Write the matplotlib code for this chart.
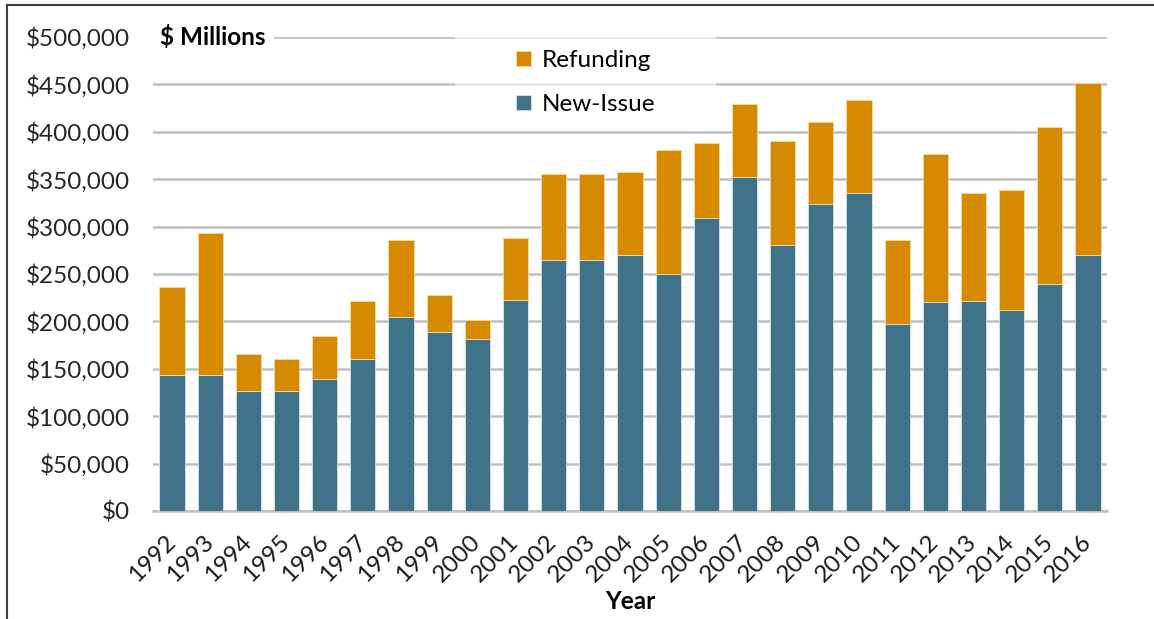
import matplotlib.pyplot as plt
import numpy as np
from matplotlib.patches import Rectangle
from matplotlib.lines import Line2D
from matplotlib.ticker import FuncFormatter

years = [str(y) for y in range(1992, 2017)]
new_issue = [143000, 143000, 127000, 127000, 139000, 160000, 205000, 189000, 181000, 223000,
             265000, 265000, 270000, 250000, 309000, 352000, 281000, 324000, 335000, 197000,
             220000, 222000, 212000, 239000, 270000]
total = [236000, 293000, 166000, 160000, 185000, 221000, 286000, 228000, 201000, 288000,
         356000, 356000, 358000, 381000, 388000, 429000, 390000, 410000, 434000, 286000,
         377000, 335000, 339000, 405000, 451000]
refunding = [t - n for t, n in zip(total, new_issue)]

ORANGE = '#D68A00'
TEAL = '#3F7289'
GRID = '#C0C0C0'
FS = 17.5

plt.rcParams['font.family'] = ['Lato', 'DejaVu Sans']

fig = plt.figure(figsize=(11.54, 6.19), dpi=100)
ax = fig.add_axes([153 / 1154, 1 - 511 / 619, 954 / 1154, 474 / 619])

x = np.arange(len(years))
ax.bar(x, new_issue, width=0.66, color=TEAL, edgecolor='#D8E2E8', linewidth=0.6,
       label='New-Issue', zorder=3)
ax.bar(x, refunding, bottom=new_issue, width=0.66, color=ORANGE, edgecolor='#F3D9A6',
       linewidth=0.6, label='Refunding', zorder=3)

ax.set_xlim(-0.5, len(years) - 0.5)
ax.set_ylim(0, 500000)
ax.set_yticks(np.arange(0, 500001, 50000))
ax.yaxis.set_major_formatter(FuncFormatter(lambda v, p: f'${v:,.0f}'))
ax.grid(axis='y', color=GRID, linewidth=1.8, zorder=0)
ax.set_axisbelow(True)
for s in ['top', 'right', 'left']:
    ax.spines[s].set_visible(False)
ax.spines['bottom'].set_color(GRID)
ax.spines['bottom'].set_linewidth(1.8)

ax.tick_params(axis='y', length=0, pad=17, labelsize=FS, labelcolor='#262626')
ax.tick_params(axis='x', length=0, pad=20, labelsize=FS, labelcolor='#1a1a1a')
ax.set_xticks(x)
ax.set_xticklabels(years, rotation=45, ha='right', va='center', rotation_mode='anchor')
ax.set_xlabel('Year', fontsize=FS, fontweight='bold', labelpad=3)

# "$ Millions" unit label over the top gridline
ax.text(7 / 954, 1.0, '$ Millions', transform=ax.transAxes, fontsize=FS,
        fontweight='bold', ha='left', va='center', zorder=5,
        bbox=dict(facecolor='white', edgecolor='none', pad=6))

# faded area behind legend
ax.add_patch(Rectangle(((455 - 153) / 954, (511 - 124) / 474), 261 / 954, 110 / 474,
                       transform=ax.transAxes, facecolor='white', edgecolor='none',
                       alpha=0.6, zorder=1, clip_on=False))
handles, labels = ax.get_legend_handles_labels()
leg = ax.legend(handles[::-1], labels[::-1], loc='upper left',
                bbox_to_anchor=((516 - 153) / 954, (511 - 50) / 474), frameon=False,
                fontsize=FS, handlelength=0.62, handleheight=0.62, handletextpad=0.45,
                labelspacing=0.95, borderpad=0, borderaxespad=0)

# outer frame lines (left and top)
fig.add_artist(Line2D([7 / 1154, 7 / 1154], [0, 1 - 5 / 619], color='#404040', linewidth=1.5))
fig.add_artist(Line2D([7 / 1154, 1], [1 - 5 / 619, 1 - 5 / 619], color='#404040', linewidth=1.5))

fig.savefig('out.png', dpi=100)
